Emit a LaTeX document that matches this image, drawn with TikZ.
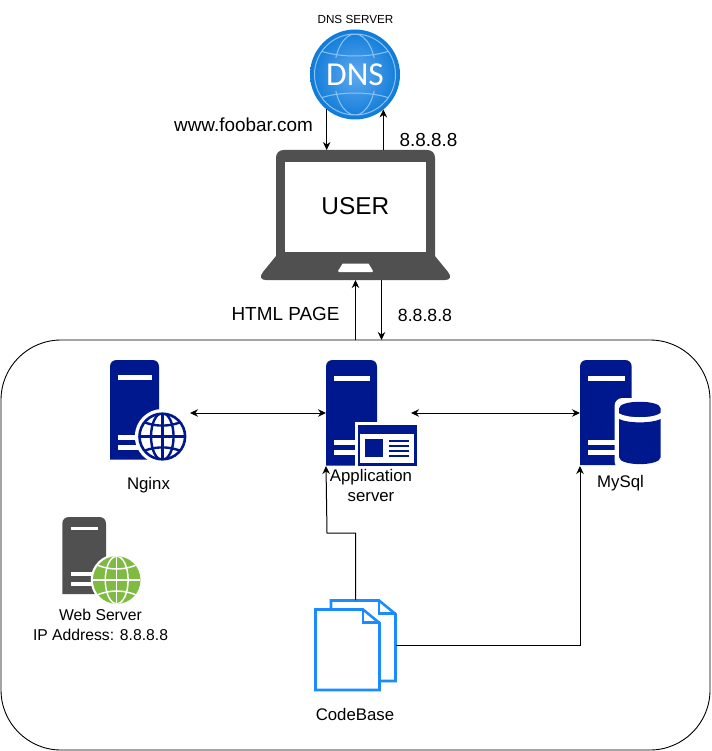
\documentclass[tikz,border=0pt]{standalone}
\usepackage{fontspec}
\setmainfont{Liberation Sans}
\newfontfamily\dnsfont{Carlito}
\usetikzlibrary{arrows.meta}
\definecolor{navy}{HTML}{00188D}
\definecolor{slate}{HTML}{505050}
\definecolor{leaf}{HTML}{7FBA42}
\definecolor{docblue}{HTML}{1A8CFF}
\definecolor{dnsdark}{HTML}{0F7BD8}
\definecolor{dnslight}{HTML}{5FA9F0}
\definecolor{dnsline}{HTML}{8CC3F5}
\tikzset{
  iconbox/.style={inner sep=0pt,outer sep=0pt,minimum width=#1},
  zonebox/.style={draw=black,line width=0.9pt,rounded corners=60pt,inner sep=0pt,outer sep=0pt,minimum width=709pt,minimum height=410pt},
  arr/.style={draw=black,line width=1pt,-{Stealth[length=8pt,width=7.5pt]}},
  dblarr/.style={draw=black,line width=1pt,{Stealth[length=8pt,width=7.5pt]}-{Stealth[length=8pt,width=7.5pt]}},
  lab/.style={inner sep=0pt,text=black,align=center},
  labfont/.style={font=\fontsize{16.8}{20}\selectfont},
  webfont/.style={font=\fontsize{15.7}{20}\selectfont},
  bigfont/.style={font=\fontsize{18.9}{22}\selectfont},
  docpage/.style={draw=docblue,line width=2.6pt,fill=white,line join=miter}
}
% x1 y1 x2 y2 : server body with rounded top
\newcommand{\towerbody}[5]{\fill[#5] (#1,#4) -- (#1,#2+7) .. controls (#1,#2+2.5) and (#1+2.5,#2) .. (#1+7,#2) -- (#3-7,#2) .. controls (#3-2.5,#2) and (#3,#2+2.5) .. (#3,#2+7) -- (#3,#4) -- cycle;}
% cx cy r : wireframe globe lines in current scope
\newcommand{\globewire}[4]{%
  \begin{scope}
  \clip (#1,#2) circle[radius=#3];
  \draw[#4] (#1,#2) ellipse[x radius=#3*0.48,y radius=#3];
  \draw[#4] (#1,#2-#3) -- (#1,#2+#3);
  \draw[#4] (#1-#3,#2) -- (#1+#3,#2);
  \draw[#4] (#1-#3,#2-#3*0.72) .. controls (#1-#3*0.4,#2-#3*0.38) and (#1+#3*0.4,#2-#3*0.38) .. (#1+#3,#2-#3*0.72);
  \draw[#4] (#1-#3,#2+#3*0.72) .. controls (#1-#3*0.4,#2+#3*0.38) and (#1+#3*0.4,#2+#3*0.38) .. (#1+#3,#2+#3*0.72);
  \end{scope}}
\begin{document}
\begin{tikzpicture}[x=1pt,y=-1pt]
\useasboundingbox (0,0) rectangle (711,751);

% ---- container
\node[zonebox] (zone) at (355.5,545) {};

% ---- DNS globe
\node[circle,inner sep=0pt,outer sep=0pt,minimum size=90pt] (dns) at (355,74.5) {};
\shade[inner color=dnslight,outer color=dnsdark] (dns.center) circle[radius=45];
\draw[dnsline,line width=1pt] (dns.center) circle[radius=40.5];
\begin{scope}
\clip (dns.center) circle[radius=40.5];
\clip (300,25) rectangle (410,58) (300,91) rectangle (410,125);
\draw[dnsline,line width=1pt] (355,74.5) ellipse[x radius=21,y radius=40.5];
\draw[dnsline,line width=1pt] (318,50) .. controls (338,58) and (372,58) .. (392,50);
\draw[dnsline,line width=1pt] (318,99) .. controls (338,91) and (372,91) .. (392,99);
\end{scope}
\node[lab,text=white,font=\dnsfont\fontsize{33.5}{36}\selectfont] (dnstext) at (355,74.5) {DNS};
\node[lab,font=\fontsize{11.7}{14}\selectfont] (dnslab) at (355.5,19.5) {DNS SERVER};

% ---- laptop
\node[iconbox=189pt,minimum height=130pt] (laptop) at (355.5,215) {};
\fill[slate]
  (276,256) -- (276,158) .. controls (276,153) and (279,150) .. (284,150) -- (427,150) .. controls (432,150) and (435,153) .. (435,158) -- (435,256)
  -- (448,272) .. controls (452,277) and (450,280) .. (445,280) -- (266,280) .. controls (261,280) and (259,277) .. (263,272) -- cycle;
\fill[white] (285,161.7) rectangle (425.7,252);
\fill[white] (342.7,263.5) -- (368.5,263.5) -- (373,271) -- (372,272) -- (339,272) -- (338,271) -- cycle;
\node[lab,font=\fontsize{24.4}{28}\selectfont] (userlab) at (355.3,206) {USER};

% ---- Nginx server
\node[iconbox=77pt,minimum height=99pt] (nginx) at (148.5,409.5) {};
\towerbody{110}{360}{159}{459.5}{navy}
\fill[white] (118,375) rectangle (152,379.7);
\fill[white] (118,435) rectangle (150,440);
\fill[white] (118,445) rectangle (150,450);
\fill[white] (162.3,436.5) circle[radius=27.5];
\fill[white] (162.3,436.5) circle[radius=23.5];
\globewire{162.3}{436.5}{23.5}{navy,line width=2.4pt}
\draw[navy,line width=2.6pt] (162.3,436.5) circle[radius=22.8];

% ---- Application server
\node[iconbox=85pt,minimum height=106pt] (app) at (368.5,413) {};
\towerbody{326}{360}{377}{465.5}{navy}
\fill[white] (333.5,375.5) rectangle (369.5,381);
\fill[white] (333.5,440) rectangle (360,445);
\fill[white] (333.5,450) rectangle (360,455);
\fill[white] (354.5,422) rectangle (419,468);
\fill[navy] (357.7,425) rectangle (416.7,465.7);
\fill[white] (360,434) rectangle (414,463);
\fill[navy] (365,439) rectangle (383,457);
\fill[navy] (389,439.5) rectangle (409,441.7);
\fill[navy] (389,444.8) rectangle (409,447);
\fill[navy] (389,450) rectangle (409,452.2);
\fill[navy] (389,455) rectangle (409,457.2);

% ---- MySql server
\node[iconbox=81pt,minimum height=106pt] (mysql) at (620.5,413) {};
\towerbody{580}{360}{631.7}{465}{navy}
\fill[white] (588,375.5) rectangle (625,380.7);
\fill[white] (588,439.5) rectangle (625,444.5);
\fill[white] (588,449.5) rectangle (625,455);
\fill[white,rounded corners=8pt] (614.5,398) rectangle (665,469);
\fill[navy] (619,408.5) -- (619,416) .. controls (619,422) and (660.7,422) .. (660.7,416) -- (660.7,408.5) .. controls (660.7,399.5) and (619,399.5) .. (619,408.5) -- cycle;
\fill[white] (617,412) .. controls (625,419) and (655,419) .. (662,412) -- (662,417) .. controls (655,423.5) and (625,423.5) .. (617,417) -- cycle;
\fill[navy] (619,419) .. controls (628,423.5) and (652,423.5) .. (660.7,419) -- (660.7,457) .. controls (660.7,466.5) and (619,466.5) .. (619,457) -- cycle;

% ---- Web server
\node[iconbox=78pt,minimum height=80pt] (web) at (101,557) {};
\towerbody{62.3}{517}{106}{594}{slate}
\fill[white] (71,527) rectangle (98,530);
\fill[white] (71,572) rectangle (98,576);
\fill[white] (71,582) rectangle (98,585.5);
\fill[white] (116.7,580) circle[radius=26];
\fill[leaf] (116.7,580) circle[radius=23.8];
\globewire{116.7}{580}{23.8}{white,line width=1.5pt}

% ---- Documents
\node[iconbox=81pt,minimum height=90pt] (docs) at (355.5,645) {};
\draw[docpage] (331,609) -- (331,600.5) -- (379,600.5) -- (395.5,614) -- (395.5,681) -- (380,681);
\draw[docpage,fill=none] (379,600.5) -- (379,613.5) -- (395.5,613.5);
\draw[docpage] (315.5,609.5) -- (363,609.5) -- (379.5,623) -- (379.5,690) -- (315.5,690) -- cycle;
\draw[docpage,fill=none] (363,609.5) -- (363,622.5) -- (379.5,622.5);

% ---- labels
\node[lab,bigfont] (foobar) at (243.5,125) {www.foobar.com};
\node[lab,bigfont] (ip1) at (428.5,140) {8.8.8.8};
\node[lab,font=\fontsize{17.7}{22}\selectfont] (ip2) at (425,315) {8.8.8.8};
\node[lab,bigfont] (html) at (285.5,314) {HTML PAGE};
\node[lab,labfont] (nginxlab) at (148.5,485) {Nginx};
\node[lab,labfont] (applab) at (371,485) {Application\\server};
\node[lab,labfont] (mysqllab) at (620.5,483.5) {MySql};
\node[lab,webfont] (weblab) at (100.5,625) {Web Server\\IP Address: 8.8.8.8};
\node[lab,labfont] (codelab) at (355,714) {CodeBase};

% ---- connectors
\coordinate (bus) at (0,413);
\coordinate (elbow) at (327,533);
\coordinate (lapout) at ([xshift=26]laptop.south);
\draw[arr] (dns.-129) -- (dns.-129 |- laptop.north);
\draw[arr] (dns.-51 |- laptop.north) -- (dns.-51);
\draw[arr] (zone.north) -- (laptop.south);
\draw[arr] (lapout) -- (lapout |- zone.north);
\draw[dblarr] ([xshift=3pt]nginx.east |- bus) -- (app.west |- bus);
\draw[dblarr] (app.east |- bus) -- (mysql.west |- bus);
\draw[arr] (docs.north) -- (docs.north |- elbow) -- (elbow) -- (app.south west);
\draw[arr] (docs.east) -| (mysql.south west);
\end{tikzpicture}
\end{document}
